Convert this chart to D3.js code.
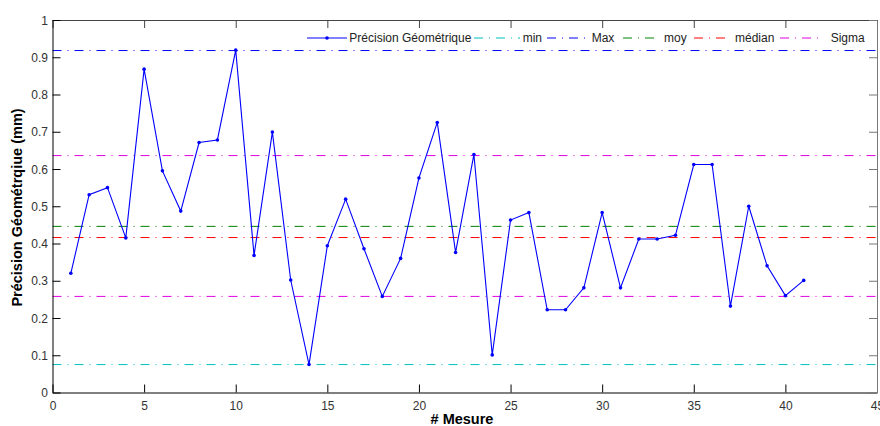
<!DOCTYPE html>
<html><head><meta charset="utf-8">
<script src="https://cdn.jsdelivr.net/npm/d3@7"></script>
<style>
html,body{margin:0;padding:0;background:#fff;}
svg{display:block;font-family:"Liberation Sans",Arial,sans-serif;}
</style></head>
<body><svg id="chart" width="880" height="426"></svg>
<script>
// ---- data ----
const mesures = d3.range(1, 42);
const precision = [0.320,0.531,0.550,0.415,0.868,0.595,0.487,0.671,0.678,0.919,
                   0.368,0.699,0.302,0.075,0.394,0.519,0.386,0.258,0.360,0.576,
                   0.725,0.376,0.639,0.101,0.463,0.483,0.222,0.222,0.281,0.483,
                   0.281,0.412,0.412,0.422,0.612,0.612,0.232,0.500,0.340,0.260,0.301];
const statNames  = ["min","Max","moy","médian","Sigma","Sigma"];
const statValues = [0.075,0.918,0.446,0.416,0.636,0.258];
const statColors = ["#00c0c0","#0000ff","#008000","#ff0000","#e000e0","#e000e0"];
const xTicks = [0,5,10,15,20,25,30,35,40,45];
const yTicks = [0,0.1,0.2,0.3,0.4,0.5,0.6,0.7,0.8,0.9,1];
const legendLabels = ["Précision Géométrique","min","Max","moy","médian","Sigma"];
const legendColors = ["#0000ff","#00c0c0","#0000ff","#008000","#ff0000","#e000e0"];
const xLabel = "# Mesure";
const yLabel = "Précision Géométrqiue (mm)";

// ---- layout ----
const L = 52.5, R = 877, T = 20, B = 392.5;
const svg = d3.select("#chart");
const x = d3.scaleLinear().domain([0,45]).range([L,R]);
const y = d3.scaleLinear().domain([0,1]).range([B,T]);
const dash = "9,6,1,6";
const tickColor = "#333";

// stat lines
svg.append("g").selectAll("line").data(statValues).join("line")
  .attr("x1", L).attr("x2", R)
  .attr("y1", d => y(d)).attr("y2", d => y(d))
  .attr("stroke", (d,i) => statColors[i]).attr("stroke-width", 1)
  .attr("stroke-dasharray", dash);

// data line
const line = d3.line().x((d,i) => x(mesures[i])).y(d => y(d));
svg.append("path").datum(precision).attr("d", line)
  .attr("fill","none").attr("stroke","#0000ff").attr("stroke-width",1.1);
svg.append("g").selectAll("circle").data(precision).join("circle")
  .attr("cx",(d,i)=>x(mesures[i])).attr("cy", d=>y(d)).attr("r",1.8)
  .attr("fill","#0000ff");

// axes (MATLAB style: inward ticks on all sides)
const axB = d3.axisBottom(x).tickValues(xTicks).tickSize(-8).tickPadding(14).tickSizeOuter(0);
const axT = d3.axisTop(x).tickValues(xTicks).tickSize(-8).tickFormat("").tickSizeOuter(0);
const axLft = d3.axisLeft(y).tickValues(yTicks).tickSize(-8).tickPadding(12).tickSizeOuter(0)
  .tickFormat(d => d===0 ? "0" : d===1 ? "1" : d3.format(".1f")(d));
const axRgt = d3.axisRight(y).tickValues(yTicks).tickSize(-8).tickFormat("").tickSizeOuter(0);

function style(g, col){
  g.selectAll(".domain").attr("stroke", col);
  g.selectAll(".tick line").attr("stroke", col);
  g.selectAll(".tick text").attr("fill", tickColor).attr("font-size", 12)
   .attr("font-family", '"Liberation Sans",Arial,sans-serif');
}
svg.append("g").attr("transform",`translate(0,${B})`).call(axB).call(g=>style(g,"#000"));
svg.append("g").attr("transform",`translate(0,${T})`).call(axT).call(g=>style(g,"#444"));
svg.append("g").attr("transform",`translate(${L},0)`).call(axLft).call(g=>style(g,"#000"));
svg.append("g").attr("transform",`translate(${R},0)`).call(axRgt).call(g=>style(g,"#777"));
svg.selectAll(".tick text").attr("dy", null);
svg.selectAll("g").filter(function(){return this.getAttribute("transform")===`translate(0,${B})`;})
  .selectAll(".tick text").attr("dy","0.32em");
svg.selectAll("g").filter(function(){return this.getAttribute("transform")===`translate(${L},0)`;})
  .selectAll(".tick text").attr("dy","0.35em").attr("x",-4.5);

// labels
svg.append("text").attr("x", 462).attr("y", 424).attr("text-anchor","middle")
  .attr("font-weight","bold").attr("font-size",14.5).attr("fill","#000").text(xLabel);
svg.append("text").attr("transform","translate(22,207.5) rotate(-90)")
  .attr("text-anchor","middle").attr("font-weight","bold").attr("font-size",14.5)
  .attr("fill","#000").text(yLabel);

// legend
const legendTextX = [349.3, 522.7, 591.7, 664, 735, 830.7];
const legendSampleX = [[307,347],[474,520],[547,588],[623,660],[694,730],[780,818]];
const LY = 38;
const lg = svg.append("g");
legendLabels.forEach((lab,i) => {
  const [a,b] = legendSampleX[i];
  const ln = lg.append("line").attr("x1",a).attr("x2",b).attr("y1",LY).attr("y2",LY)
    .attr("stroke", legendColors[i]).attr("stroke-width",1);
  if(i>0) ln.attr("stroke-dasharray", dash);
  else lg.append("circle").attr("cx",(a+b)/2).attr("cy",LY).attr("r",1.8).attr("fill","#0000ff");
  lg.append("text").attr("x", legendTextX[i]).attr("y", LY+4).attr("font-size",12)
    .attr("fill","#222").text(lab);
});
</script></body></html>
